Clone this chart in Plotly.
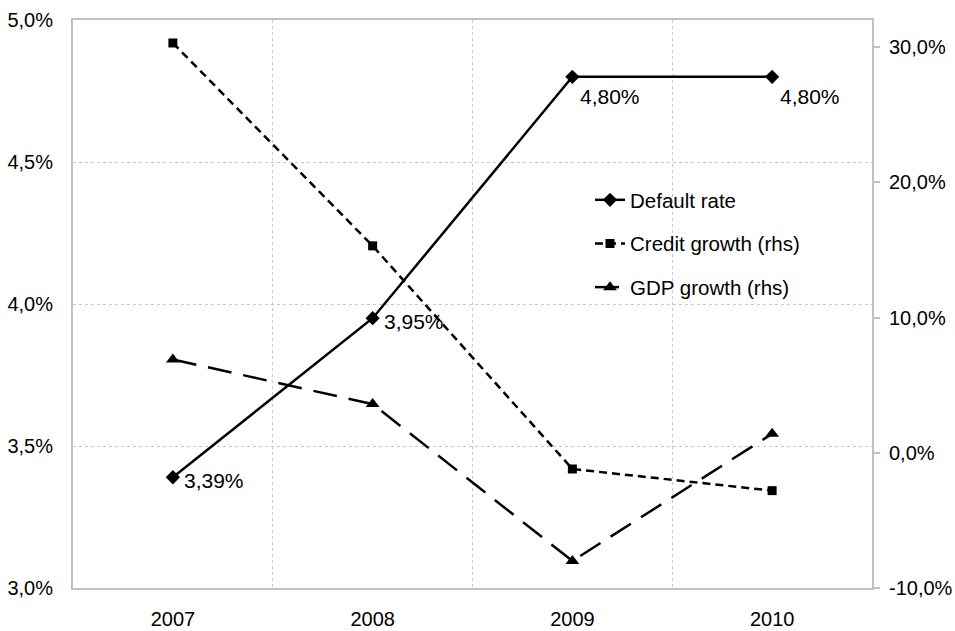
import plotly.graph_objects as go

# Data
years = ["2007", "2008", "2009", "2010"]
default_rate = [3.39, 3.95, 4.80, 4.80]       # % (left axis)
credit_growth = [30.3, 15.3, -1.2, -2.8]      # % (right axis)
gdp_growth = [6.9, 3.6, -8.0, 1.4]            # % (right axis)

left_ticks = [3.0, 3.5, 4.0, 4.5, 5.0]
right_ticks = [-10, 0, 10, 20, 30]


def pct(v, decimals):
    return f"{v:.{decimals}f}%".replace(".", ",")


xpos = list(range(len(years)))
FONT = "Liberation Sans, Arial, sans-serif"
FS = 20
GRID = "#c8c8c8"
FRAME = "#c0c0c0"

fig = go.Figure()

fig.add_trace(go.Scatter(
    x=xpos, y=default_rate, name="Default rate", mode="lines+markers",
    legendgroup="a",
    line=dict(color="black", width=2.5),
    marker=dict(symbol="diamond", size=11, color="black"),
))
fig.add_trace(go.Scatter(
    x=xpos, y=credit_growth, name="Credit growth (rhs)", mode="lines+markers",
    yaxis="y2", legendgroup="b",
    line=dict(color="black", width=2.5, dash="8px,5px"),
    marker=dict(symbol="square", size=9, color="black"),
))
fig.add_trace(go.Scatter(
    x=xpos, y=gdp_growth, name="GDP growth (rhs)", mode="lines+markers",
    yaxis="y2", legendgroup="c",
    line=dict(color="black", width=2.5, dash="24px,12px"),
    marker=dict(symbol="triangle-up", size=12, color="black"),
))

# Value labels for the default rate
for i, v in enumerate(default_rate):
    near_top = v > 4.6
    fig.add_annotation(
        x=xpos[i], y=v, xref="x", yref="y",
        text=pct(v, 2),
        showarrow=False, xanchor="left", yanchor="middle",
        xshift=6 if near_top else 9, yshift=-20 if near_top else -3,
        font=dict(family=FONT, size=21, color="black"),
    )

# White panel behind the legend (covers the gridlines, not the series)
fig.add_shape(
    type="rect", xref="paper", yref="paper", layer="between",
    x0=(545 - 73) / 799, x1=1.0, y0=(588 - 312) / 568, y1=(588 - 176) / 568,
    fillcolor="white", line=dict(width=0),
)

fig.update_layout(
    width=955, height=631,
    margin=dict(l=73, r=83, t=20, b=43),
    paper_bgcolor="white", plot_bgcolor="white",
    font=dict(family=FONT, size=FS, color="black"),
    showlegend=True,
    legend=dict(
        x=(590 - 73) / 799, y=(588 - 180) / 568, xanchor="left", yanchor="top",
        bgcolor="rgba(0,0,0,0)", borderwidth=0,
        font=dict(family=FONT, size=20.5, color="black"),
        tracegroupgap=14, itemwidth=30,
    ),
    xaxis=dict(
        range=[-0.5, 3.5], tickvals=xpos, ticktext=years,
        showgrid=False, zeroline=False, automargin=False,
        showline=True, linecolor=FRAME, linewidth=2, mirror=True,
        ticks="", ticklabelstandoff=12,
        minor=dict(tickvals=[0.5, 1.5, 2.5], showgrid=True,
                   gridcolor=GRID, griddash="dot", gridwidth=1, ticks=""),
    ),
    yaxis=dict(
        range=[3.0, 5.0], tickvals=left_ticks,
        ticktext=[pct(v, 1) for v in left_ticks],
        showgrid=True, gridcolor=GRID, griddash="dot", gridwidth=1,
        zeroline=False, automargin=False,
        showline=True, linecolor=FRAME, linewidth=2, mirror=True,
        ticks="", ticklabelstandoff=14,
    ),
    yaxis2=dict(
        overlaying="y", side="right",
        range=[-10, 32], tickvals=right_ticks,
        ticktext=[pct(v, 1) for v in right_ticks],
        showgrid=False, zeroline=False, automargin=False,
        showline=True, linecolor=FRAME, linewidth=2,
        ticks="outside", ticklen=6, tickcolor=FRAME, tickwidth=1.5,
        ticklabelstandoff=5,
    ),
)

fig.write_html("out.html")
